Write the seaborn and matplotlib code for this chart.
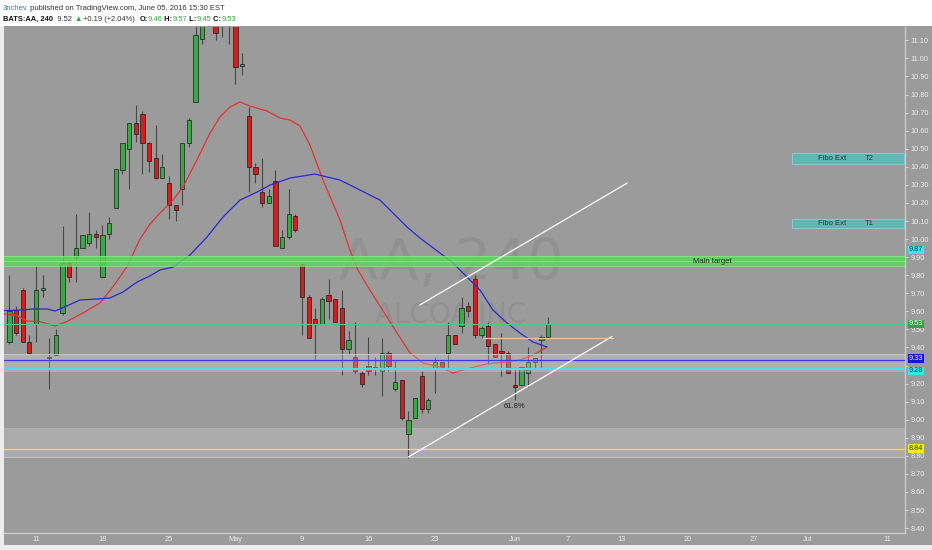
import numpy as np
import pandas as pd
import matplotlib
matplotlib.use("Agg")
import matplotlib.pyplot as plt
import matplotlib.transforms as mtransforms
from matplotlib.patches import Rectangle
import seaborn as sns

# BATS:AA 240 min candles, 2016-04-07 .. 2016-06-03, two bars per session
opens = [9.43, 9.61, 9.72, 9.43, 9.53, 9.72, 9.34, 9.36, 9.59, 9.87,
         9.90, 9.95, 9.98, 10.03, 9.79, 10.03, 10.17, 10.38, 10.50, 10.64,
         10.69, 10.53, 10.45, 10.34, 10.31, 10.19, 10.28, 10.53, 10.76, 11.11,
         11.19, 11.22, 11.18, 11.24, 11.22, 10.96, 10.68, 10.40, 10.26, 10.20,
         10.32, 9.95, 10.01, 10.13, 9.86, 9.68, 9.56, 9.53, 9.69, 9.67,
         9.62, 9.39, 9.35, 9.26, 9.30, 9.28, 9.27, 9.37, 9.17, 9.22,
         8.92, 9.01, 9.24, 9.06, 9.28, 9.32, 9.37, 9.47, 9.52, 9.63,
         9.78, 9.47, 9.52, 9.42, 9.38, 9.37, 9.19, 9.19, 9.26, 9.32,
         9.44, 9.46]
highs = [9.80, 9.63, 9.73, 9.47, 9.85, 9.80, 9.45, 9.50, 10.07, 9.87,
         10.14, 10.02, 10.15, 10.05, 10.08, 10.12, 10.39, 10.53, 10.64, 10.74,
         10.71, 10.54, 10.63, 10.47, 10.35, 10.19, 10.53, 10.67, 11.22, 11.25,
         11.30, 11.28, 11.26, 11.28, 11.26, 11.03, 10.73, 10.42, 10.45, 10.28,
         10.38, 10.05, 10.28, 10.14, 9.87, 9.69, 9.62, 9.68, 9.78, 9.67,
         9.72, 9.49, 9.54, 9.27, 9.46, 9.35, 9.45, 9.38, 9.33, 9.22,
         9.05, 9.12, 9.27, 9.12, 9.35, 9.32, 9.54, 9.47, 9.68, 9.65,
         9.80, 9.52, 9.54, 9.42, 9.48, 9.38, 9.29, 9.29, 9.40, 9.33,
         9.47, 9.57]
lows = [9.42, 9.47, 9.43, 9.37, 9.43, 9.68, 9.17, 9.36, 9.58, 9.76,
        9.76, 9.95, 9.96, 9.95, 9.79, 10.00, 10.17, 10.36, 10.28, 10.54,
        10.36, 10.37, 10.33, 10.34, 10.11, 10.10, 10.19, 10.51, 10.76, 11.08,
        11.18, 11.10, 11.12, 11.08, 10.86, 10.91, 10.26, 10.31, 10.18, 10.20,
        9.96, 9.95, 10.00, 10.04, 9.47, 9.45, 9.33, 9.53, 9.56, 9.54,
        9.25, 9.36, 9.26, 9.18, 9.25, 9.25, 9.13, 9.27, 9.16, 9.00,
        8.79, 9.01, 9.04, 9.04, 9.15, 9.28, 9.28, 9.42, 9.48, 9.57,
        9.45, 9.45, 9.31, 9.35, 9.24, 9.26, 9.11, 9.19, 9.18, 9.28,
        9.28, 9.45]
closes = [9.60, 9.48, 9.43, 9.37, 9.72, 9.73, 9.35, 9.47, 9.87, 9.79,
          9.95, 10.02, 10.03, 10.01, 10.02, 10.09, 10.39, 10.53, 10.64, 10.58,
          10.53, 10.43, 10.34, 10.40, 10.19, 10.16, 10.53, 10.66, 11.13, 11.20,
          11.26, 11.14, 11.22, 11.19, 10.95, 10.97, 10.40, 10.36, 10.20, 10.24,
          9.96, 10.01, 10.14, 10.05, 9.68, 9.45, 9.53, 9.67, 9.66, 9.54,
          9.39, 9.44, 9.27, 9.20, 9.27, 9.29, 9.37, 9.30, 9.21, 9.01,
          9.00, 9.12, 9.06, 9.11, 9.32, 9.29, 9.47, 9.42, 9.62, 9.60,
          9.47, 9.51, 9.41, 9.35, 9.37, 9.26, 9.18, 9.29, 9.32, 9.34,
          9.46, 9.53]

# moving averages at (bar index, price)
red_x = [-0.81, 0.95, 2.60, 4.60, 6.86, 8.62, 11.07, 13.62, 15.58, 17.68,
         19.64, 21.14, 22.65, 24.6, 26.1, 28.2, 30.17, 31.67, 33.17, 34.68,
         36.18, 38.74, 40.69, 42.2, 43.7, 45.2, 47.16, 49.71, 51.2, 52.4,
         54.2, 56.78, 58.29, 60.24, 62.2, 64.75, 66.71, 69.26, 71.8, 74.83,
         76.78, 78.74, 80.84]
red_ma = [9.585, 9.580, 9.547, 9.543, 9.519, 9.543, 9.591, 9.646, 9.736, 9.847,
          10.000, 10.083, 10.144, 10.216, 10.288, 10.438, 10.587, 10.676, 10.731, 10.759,
          10.736, 10.709, 10.670, 10.659, 10.626, 10.521, 10.327, 10.106, 9.940, 9.829,
          9.718, 9.569, 9.480, 9.370, 9.314, 9.292, 9.259, 9.286, 9.309, 9.320,
          9.331, 9.358, 9.403]
blue_x = [-0.81, 1.59, 3.55, 5.65, 6.86, 8.66, 10.62, 13.17, 15.13, 17.08,
          19.19, 21.14, 22.65, 24.6, 27.16, 29.71, 32.12, 34.68, 37.23, 39.19,
          42.2, 45.95, 49.71, 52.7, 55.73, 59.79, 61.74, 64.75, 66.71, 68.81,
          70.77, 72.72, 74.83, 76.78, 78.74, 80.84]
blue_ma = [9.604, 9.607, 9.613, 9.613, 9.602, 9.630, 9.663, 9.668, 9.674, 9.707,
           9.762, 9.796, 9.829, 9.845, 9.912, 10.011, 10.122, 10.216, 10.260, 10.299,
           10.338, 10.360, 10.327, 10.272, 10.216, 10.067, 10.006, 9.923, 9.868, 9.790,
           9.718, 9.607, 9.536, 9.480, 9.430, 9.403]

# calendar for the time axis
first_day = "2016-04-07"
last_day = "2016-07-15"
holidays = ["2016-05-30"]
tick_dates = ["2016-04-11", "2016-04-18", "2016-04-25", "2016-05-02", "2016-05-09",
              "2016-05-16", "2016-05-23", "2016-06-01", "2016-06-07", "2016-06-13",
              "2016-06-20", "2016-06-27", "2016-07-01", "2016-07-11"]
tick_labels = ["11", "18", "25", "May", "9", "16", "23", "Jun", "7", "13",
               "20", "27", "Jul", "11"]

# horizontal levels and price scale tags
levels = [9.53, 9.33, 9.28, 8.84]
level_colors = ["#5cbf83", "#3a3ae0", "#3fe3e3", "#e4e44a"]
level_widths = [0.8, 0.9, 1.6, 1.0]
tag_text = ["9.87", "9.53", "9.33", "9.28", "8.84"]
tag_price = [9.94, 9.53, 9.339, 9.271, 8.84]
tag_bg = ["#35e8f2", "#3c9c48", "#1414d6", "#35e8f2", "#f2f200"]
tag_fg = ["#103040", "white", "white", "#103040", "#303000"]
hidden_scale_labels = [9.30]   # covered by the 9.33 / 9.28 tags

sns.set_style("dark")
plt.rcParams["font.family"] = ["Liberation Sans", "DejaVu Sans"]

bg = "#9b9b9b"
fig = plt.figure(figsize=(9.32, 5.5), dpi=100, facecolor=bg)
ax = fig.add_axes([4 / 932, 17 / 550, 901 / 932, 506 / 550])
ax.set_facecolor(bg)

o = np.array(opens); h = np.array(highs); l = np.array(lows); c = np.array(closes)
x = np.arange(len(o))
up = c >= o
body_lo = np.minimum(o, c)
body_h = np.maximum(np.abs(c - o), 0.007)
ax.vlines(x, l, h, color="#474747", lw=0.8, zorder=3)
ax.bar(x, body_h, bottom=body_lo, width=0.64,
       color=np.where(up, "#3aa846", "#d21f1f"), edgecolor="#1c1c1c",
       linewidth=0.5, zorder=4)

sns.lineplot(x=red_x, y=red_ma, ax=ax, color="#e43232", lw=0.9, zorder=5,
             estimator=None)
sns.lineplot(x=blue_x, y=blue_ma, ax=ax, color="#2a2ad2", lw=0.9, zorder=5,
             estimator=None)

# watermark
ax.text(66.4, 9.773, "AA, 240", fontsize=41, color="#6f6f6f", alpha=0.22,
        ha="center", va="baseline", family="DejaVu Sans", zorder=1)
ax.text(66.4, 9.535, "ALCOA INC", fontsize=20, color="#6f6f6f", alpha=0.22,
        ha="center", va="baseline", family="DejaVu Sans", zorder=1)

# zones
ax.axhspan(9.85, 9.905, color="#58dc58", alpha=0.8, lw=0, zorder=6)
for yy in (9.85, 9.877, 9.905):
    ax.axhline(yy, color="#8cf08c", lw=0.6, alpha=0.8, zorder=6)
ax.text(102.8, 9.877, "Main target", fontsize=5.5, color="#163316",
        ha="left", va="center", zorder=8)
ax.axhspan(9.266, 9.364, color="white", alpha=0.22, lw=0, zorder=6)
ax.axhline(9.364, color="#c8c8c8", lw=0.6, zorder=6)
ax.axhspan(8.794, 8.954, color="white", alpha=0.16, lw=0, zorder=2)
ax.axhline(8.954, color="#b4b4b4", lw=0.5, zorder=2)
ax.axhline(8.794, color="#c4c4c4", lw=0.7, zorder=2)

for lv, col, lw in zip(levels, level_colors, level_widths):
    ax.axhline(lv, color=col, lw=lw, zorder=7)

# Fibo extension targets
for top, bot, tag in [(10.475, 10.415, "T2"), (10.111, 10.06, "T1")]:
    ax.add_patch(Rectangle((117.7, bot), 134.6 - 117.7, top - bot, fc="#62b6b6",
                           ec="#8ed2d2", lw=0.6, zorder=7))
    ax.text(123.7, (top + bot) / 2, "Fibo Ext", fontsize=5.5, color="#163a44",
            ha="center", va="center", zorder=8)
    ax.text(129.3, (top + bot) / 2, tag, fontsize=5.5, color="#163a44",
            ha="center", va="center", zorder=8)

# channel lines
ax.plot([61.7, 92.9], [9.635, 10.31], color="white", lw=0.9, zorder=8)
ax.plot([60.0, 90.6], [8.794, 9.46], color="white", lw=0.9, zorder=8)
ax.plot([71.2, 90.8], [9.455, 9.455], color="#f2c9a4", lw=0.9, zorder=8)
ax.text(75.9, 9.071, "61.8%", fontsize=5.5, color="#222222", ha="center",
        va="center", zorder=8)

# axes
days = pd.bdate_range(first_day, last_day)
days = days[~days.isin(pd.to_datetime(holidays))]
day_pos = {d: 2 * k for k, d in enumerate(days)}
ax.set_xticks([day_pos[pd.Timestamp(d)] for d in tick_dates])
ax.set_xticklabels(tick_labels)
ax.set_xlim(-0.81, 134.68)
ax.set_ylim(8.373, 11.174)
ax.yaxis.tick_right()
yt = np.round(np.arange(8.4, 11.15, 0.1), 2)
ax.set_yticks(yt)
ax.set_yticklabels(["" if v in hidden_scale_labels else f"{v:.2f}" for v in yt])
ax.tick_params(axis="y", labelsize=5.3, colors="#ececec", length=2, width=0.5,
               pad=2, direction="out")
ax.tick_params(axis="x", labelsize=5.3, colors="#ececec", length=2, width=0.5,
               pad=2, direction="in")
ax.grid(False)
for side in ("top", "left"):
    ax.spines[side].set_visible(False)
for side in ("right", "bottom"):
    ax.spines[side].set_visible(True)
    ax.spines[side].set_color("#c9c9c9")
    ax.spines[side].set_linewidth(1.0)

trans = mtransforms.blended_transform_factory(ax.transAxes, ax.transData)
for t, p, b, f in zip(tag_text, tag_price, tag_bg, tag_fg):
    ax.text(1.004, p, t, transform=trans, fontsize=5.3, color=f, ha="left",
            va="center", clip_on=False, zorder=10,
            bbox=dict(boxstyle="square,pad=0.1", fc=b, ec="none"))

# page chrome
fig.add_artist(Rectangle((0, 1 - 26 / 550), 1, 26 / 550, transform=fig.transFigure,
                         fc="white", ec="none", zorder=0))
fig.add_artist(Rectangle((0, 0), 4 / 932, 1 - 26 / 550, transform=fig.transFigure,
                         fc="#ededed", ec="none", zorder=0))
fig.add_artist(Rectangle((0, 0), 1, 5 / 550, transform=fig.transFigure,
                         fc="#ededed", ec="none", zorder=0))


def draw_row(parts, x0, y0, right_px, size=6.0):
    # chain coloured pieces, then shrink the row to the width seen in the reference
    pieces = [fig.text(x0, y0, parts[0][0], color=parts[0][1], fontsize=size,
                       fontweight=parts[0][2], ha="left", va="bottom")]
    for text, color, weight in parts[1:]:
        pieces.append(ax.annotate(text, xy=(1, 0), xycoords=pieces[-1], color=color,
                                  fontsize=size, fontweight=weight, ha="left",
                                  va="bottom", annotation_clip=False))
    fig.canvas.draw()
    width = pieces[-1].get_window_extent().x1 - x0 * fig.bbox.width
    scale = (right_px - x0 * fig.bbox.width) / width
    for p in pieces:
        p.set_fontsize(size * scale)


draw_row([("3nchev", "#2e78d4", "normal"),
          (" published on TradingView.com, June 05, 2016 15:30 EST", "#333333", "normal")],
         3 / 932, 1 - 12 / 550, 226)
draw_row([("BATS:AA, 240", "#111111", "bold"), ("  9.52 ", "#333333", "normal"),
          ("\u25b2", "#2ea83a", "normal"), (" +0.19 (+2.04%)  ", "#333333", "normal"),
          ("O:", "#111111", "bold"), ("9.46", "#2ea83a", "normal"),
          (" H:", "#111111", "bold"), ("9.57", "#2ea83a", "normal"),
          (" L:", "#111111", "bold"), ("9.45", "#2ea83a", "normal"),
          (" C:", "#111111", "bold"), ("9.53", "#2ea83a", "normal")],
         3 / 932, 1 - 23 / 550, 238)

fig.savefig("out.png", dpi=100, facecolor=fig.get_facecolor())
